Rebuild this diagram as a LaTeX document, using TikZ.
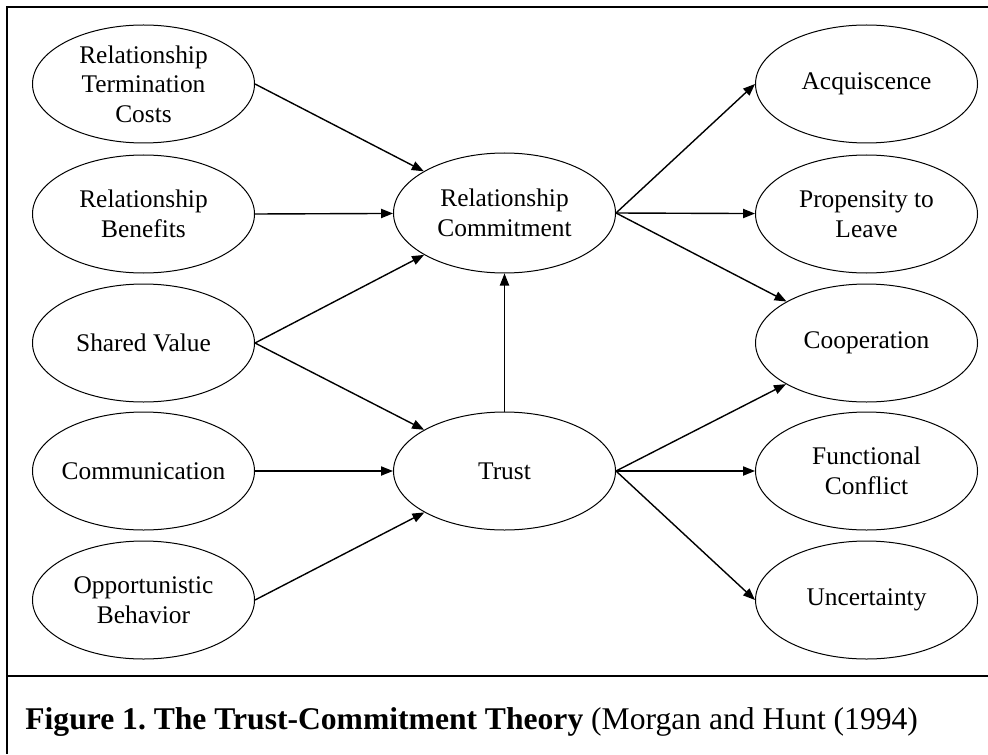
\documentclass[tikz,border=0pt]{standalone}
\usepackage{fontspec}
\setmainfont{Liberation Serif}
\usetikzlibrary{shapes.geometric,arrows.meta}
\frenchspacing

\begin{document}
\begin{tikzpicture}[x=0.5pt,y=-0.5pt,
  concept/.style={draw, ellipse, line width=0.5pt, inner xsep=-5pt, inner ysep=0pt,
    minimum width=111pt, minimum height=59pt, align=center,
    font=\fontsize{12.7}{14.75}\selectfont},
  link/.style={-{Triangle[length=6pt,width=4.6pt]}, line width=0.7pt}]
  \useasboundingbox (0,0) rectangle (988,754);
  \draw[line width=1.4pt] (988,7)--(7,7)--(7,754); % frame
  \draw[line width=1.4pt] (7,676)--(988,676); % caption rule

  % antecedents
  \node[concept] (rtc) at (143.5,84) {Relationship\\Termination\\Costs};
  \node[concept] (rb) at (143.5,214) {Relationship\\Benefits};
  \node[concept] (sv) at (143.5,343) {Shared Value};
  \node[concept] (comm) at (143.5,471) {Communication};
  \node[concept] (ob) at (143.5,600) {Opportunistic\\Behavior};

  % mediators
  \node[concept, minimum height=60pt] (rc) at (504.5,213) {Relationship\\Commitment};
  \node[concept] (trust) at (504.5,471) {Trust};

  % outcomes
  \node[concept] (acq) at (866.5,84) {Acquiscence};
  \node[concept] (ptl) at (866.5,214) {Propensity to\\Leave};
  \node[concept] (coop) at (866.5,343) {Cooperation};
  \node[concept] (fc) at (866.5,471) {Functional\\Conflict};
  \node[concept] (unc) at (866.5,600) {Uncertainty};

  \draw[link] (rtc.east)--(rc);
  \draw[link] (rb.east)--(rc);
  \draw[link] (sv.east)--(rc);
  \draw[link] (sv.east)--(trust);
  \draw[link] (comm.east)--(trust);
  \draw[link] (ob.east)--(trust);
  \draw[link] (trust)--(rc);

  \draw[link] (rc.east)--(acq.west);
  \draw[link] (rc.east)--(ptl);
  \draw[link] (rc.east)--(coop);
  \draw[link] (trust.east)--(coop);
  \draw[link] (trust.east)--(fc);
  \draw[link] (trust.east)--(unc.west);

  \node[anchor=base west, inner sep=0pt, font=\fontsize{15.8}{19}\selectfont]
    (caption) at (25,729) {\textbf{Figure 1. The Trust-Commitment Theory} (Morgan and Hunt (1994)};
\end{tikzpicture}
\end{document}
